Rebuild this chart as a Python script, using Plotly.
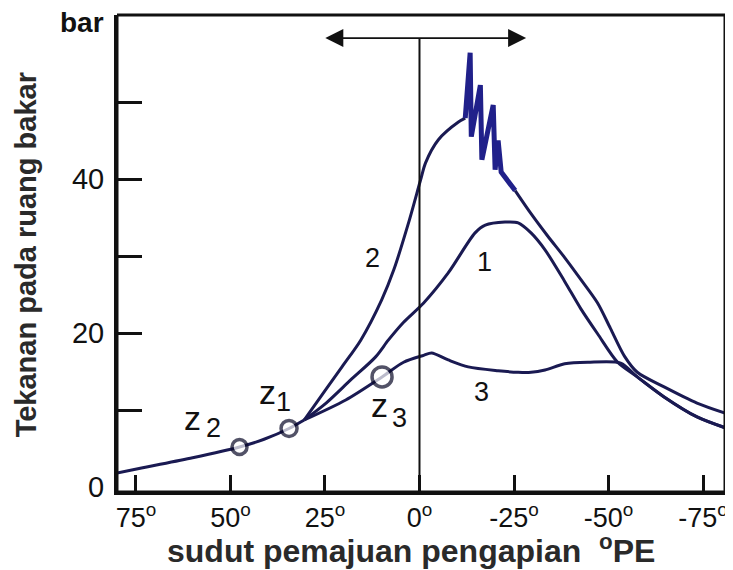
import plotly.graph_objects as go

# ---------------- data ----------------
common_x = [80.0, 73.2, 60.0, 47.6, 41.1, 34.5, 30.5]
common_y = [1.8, 2.5, 3.8, 5.2, 6.2, 7.6, 8.7]

c1_x = [30.5, 24.7, 18.2, 11.6, 8.2, 4.2, -1.1, -7.6, -14.7, -17.4, -22.6, -26.1,
        -29.5, -33.2, -38.4, -42.6, -47.1, -52.4, -57.6, -64.7, -73.4, -80.8]
c1_y = [8.7, 10.9, 13.9, 16.9, 19.1, 21.4, 23.9, 27.8, 33.0, 34.0, 34.4, 34.3,
        33.0, 30.8, 26.7, 23.2, 19.9, 16.2, 14.3, 11.7, 9.1, 7.7]

c2_x = [30.5, 29.2, 20.5, 15.5, 10.0, 6.8, 2.9, -0.3, -1.6, -5.0, -10.3, -12.1,
        -13.4, -13.7, -16.1, -16.5, -19.5, -20.0, -20.8, -21.6,
        -25.3, -29.5, -33.9, -38.4, -42.6, -47.1, -50.5, -54.2, -57.6, -64.7, -73.4, -80.8]
c2_y = [8.7, 9.6, 15.6, 19.1, 24.3, 28.2, 34.3, 39.9, 42.1, 45.1, 47.4, 47.9,
        56.4, 45.5, 52.2, 42.5, 49.6, 41.2, 45.0, 40.9,
        38.5, 35.5, 32.6, 29.8, 27.0, 23.9, 20.6, 17.0, 14.9, 13.0, 10.9, 9.6]
knock_start, knock_end = 11, 20   # slice of curve 2 with the knocking oscillation

c3_x = [30.5, 19.5, 9.9, 4.2, -1.1, -3.2, -7.6, -12.9, -20.8, -26.1, -29.5, -33.2,
        -38.4, -44.5, -53.2, -57.6, -64.7, -73.4, -80.8]
c3_y = [8.7, 11.3, 14.3, 16.2, 17.1, 17.4, 16.5, 15.6, 15.1, 14.9, 14.9, 15.2,
        16.0, 16.2, 16.1, 14.3, 11.7, 9.1, 7.7]

z_x = [34.5, 47.6, 9.9]
z_y = [7.6, 5.2, 14.3]
z_size = [16, 15, 20]

x_tick_vals = [75, 50, 25, 0, -25, -50, -75]
x_tick_text = ["75<sup>o</sup>", "50<sup>o</sup>", "25<sup>o</sup>", "0<sup>o</sup>",
               "-25<sup>o</sup>", "-50<sup>o</sup>", "-75<sup>o</sup>"]
y_tick_marks = [10, 20, 30, 40, 50]
y_label_vals = [0, 20, 40]
y_label_text = ["0", "20", "40"]

curve_labels = ["2", "1", "3"]
curve_label_x = [12.4, -17.1, -16.3]
curve_label_y = [29.7, 29.2, 12.3]

z_names = ["1", "2", "3"]
z_label_x = [40.3, 60.0, 10.5]
z_label_y = [12.3, 9.0, 10.6]
z_sub_x = [36.0, 54.6, 5.2]
z_sub_y = [11.0, 7.7, 9.0]

arrow_left, arrow_right, arrow_y = 25.3, -28.2, 58.3

# ---------------- style ----------------
FONT = "Liberation Sans, Arial, sans-serif"
INK = "#111111"
CURVE = "#1a1a52"
KNOCK = "#20208a"

fig = go.Figure()

def add_line(xs, ys, shape="spline", color=CURVE, width=3):
    fig.add_trace(go.Scatter(x=xs, y=ys, mode="lines",
                             line=dict(color=color, width=width, shape=shape, smoothing=0.8),
                             hoverinfo="skip", showlegend=False))

add_line(common_x, common_y)
add_line(c1_x, c1_y)
add_line(c3_x, c3_y)
add_line(c2_x[:knock_start + 1], c2_y[:knock_start + 1])
add_line(c2_x[knock_start:knock_end + 1], c2_y[knock_start:knock_end + 1],
         shape="linear", color=KNOCK, width=5)
add_line(c2_x[knock_end:], c2_y[knock_end:])

fig.add_trace(go.Scatter(x=z_x, y=z_y, mode="markers",
                         marker=dict(size=z_size, color="white",
                                     line=dict(color="#0a0a28", width=3.5)),
                         hoverinfo="skip", showlegend=False))

# frame around the plot area, one side at a time
for (x0, y0, x1, y1) in [(0, 0, 1, 0), (0, 1, 1, 1), (0, 0, 0, 1), (1, 0, 1, 1)]:
    fig.add_shape(type="line", xref="paper", yref="paper", x0=x0, y0=y0, x1=x1, y1=y1,
                  line=dict(color=INK, width=3), layer="above")

# vertical line at 0 deg
fig.add_shape(type="line", x0=0, x1=0, y0=-0.65, y1=arrow_y, xref="x", yref="y",
              line=dict(color=INK, width=2))

# double arrow
fig.add_annotation(x=arrow_right, y=arrow_y, ax=arrow_left, ay=arrow_y,
                   xref="x", yref="y", axref="x", ayref="y", text="",
                   showarrow=True, arrowside="end+start", arrowhead=2,
                   startarrowhead=2, arrowsize=2.0, startarrowsize=2.0,
                   arrowwidth=1.8, arrowcolor=INK)

for t, x, y in zip(curve_labels, curve_label_x, curve_label_y):
    fig.add_annotation(x=x, y=y, text=t, showarrow=False, xref="x", yref="y",
                       font=dict(family=FONT, size=27, color=INK))

for n, x, y, sx, sy in zip(z_names, z_label_x, z_label_y, z_sub_x, z_sub_y):
    fig.add_annotation(x=x, y=y, text="z", showarrow=False, xref="x", yref="y",
                       font=dict(family=FONT, size=34, color=INK))
    fig.add_annotation(x=sx, y=sy, text=n, showarrow=False, xref="x", yref="y",
                       font=dict(family=FONT, size=27, color=INK))

fig.add_annotation(x=0.483, y=-0.12, xref="paper", yref="paper",
                   text="<b>sudut pemajuan pengapian  <sup>o</sup>PE</b>", showarrow=False,
                   font=dict(family=FONT, size=32, color="#2a2a2a"),
                   xanchor="center", yanchor="middle")
fig.add_annotation(x=-0.1506, y=0.497, xref="paper", yref="paper",
                   text="<b>Tekanan pada ruang bakar</b>", textangle=-90, showarrow=False,
                   font=dict(family=FONT, size=29, color="#2a2a2a"),
                   xanchor="center", yanchor="middle")
fig.add_annotation(x=-0.0573, y=0.985, xref="paper", yref="paper",
                   text="<b>bar</b>", showarrow=False,
                   font=dict(family=FONT, size=28, color=INK),
                   xanchor="center", yanchor="middle")

# page body has an 8px margin: the figure is 8px smaller to fit the 733x570 window
fig.update_layout(
    width=725, height=562,
    margin=dict(l=109, r=5, t=7, b=78),
    paper_bgcolor="white", plot_bgcolor="white",
    font=dict(family=FONT, size=27, color=INK),
    xaxis=dict(range=[80.0, -80.8], tickvals=x_tick_vals, ticktext=x_tick_text,
               ticks="inside", ticklen=17, tickwidth=2.5, tickcolor=INK,
               showline=True, linewidth=3, linecolor=INK,
               showgrid=False, zeroline=False,
               tickfont=dict(family=FONT, size=27, color=INK)),
    yaxis=dict(range=[-0.65, 61.3], tickvals=y_label_vals, ticktext=y_label_text,
               ticks="", ticklabelstandoff=4,
               minor=dict(tickvals=y_tick_marks, ticks="inside", ticklen=25,
                          tickwidth=2.5, tickcolor=INK, showgrid=False),
               showline=True, linewidth=3, linecolor=INK,
               showgrid=False, zeroline=False,
               tickfont=dict(family=FONT, size=29, color=INK)),
)

fig.write_html("out.html")
